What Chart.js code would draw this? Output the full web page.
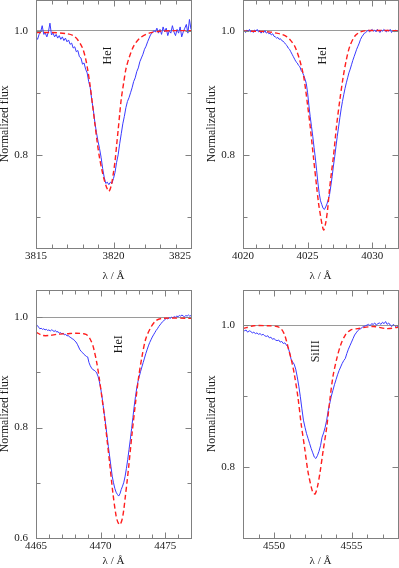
<!DOCTYPE html>
<html><head><meta charset="utf-8">
<script src="https://cdn.jsdelivr.net/npm/chart.js@4.4.1/dist/chart.umd.min.js"></script>
<style>
html,body{margin:0;padding:0;background:#fff;}
body{width:399px;height:568px;overflow:hidden;position:relative;}
canvas{position:absolute;}
</style></head><body>
<canvas id="c0"></canvas><canvas id="c1"></canvas><canvas id="c2"></canvas><canvas id="c3"></canvas>
<script>
// ---------- DATA ----------
const lineNames = ['HeI', 'HeI', 'HeI', 'SiIII'];
const lineLabelX = [3819.65, 4026.2, 4471.45, 4552.68];
const lineLabelY = [0.96, 0.96, 0.951, 0.963];

const xRanges = [[3815, 3825], [4020, 4032], [4465, 4477], [4548, 4558]];
const yRanges = [[0.65, 1.05], [0.65, 1.05], [0.6, 1.05], [0.7, 1.05]];
const xTickValues = [[3815, 3820, 3825], [4020, 4025, 4030], [4465, 4470, 4475], [4550, 4555]];
const yTickValues = [[0.8, 1.0], [0.8, 1.0], [0.6, 0.8, 1.0], [0.8, 1.0]];

// observed spectra: first wavelength, sampling step, normalized flux
const obsStart = [3815.0, 4020.0, 4465.0, 4548.0];
const obsStep = [0.1, 0.1, 0.1, 0.1];
const obs3819 = [
 0.990,0.986,0.994,0.998,1.008,0.994,0.996,0.990,0.998,1.012,
 0.993,0.996,0.990,0.994,0.988,0.992,0.986,0.990,0.984,0.988,
 0.982,0.985,0.978,0.980,0.972,0.974,0.966,0.968,0.958,0.956,
 0.946,0.948,0.938,0.932,0.918,0.908,0.888,0.872,0.852,0.836,
 0.822,0.810,0.796,0.778,0.764,0.754,0.756,0.752,0.756,0.754,
 0.762,0.772,0.788,0.800,0.818,0.834,0.850,0.862,0.876,0.886,
 0.892,0.900,0.908,0.918,0.924,0.934,0.940,0.950,0.956,0.962,
 0.970,0.975,0.982,0.988,0.994,0.996,1.000,0.998,1.004,0.996,
 1.002,0.994,1.006,0.998,1.004,0.992,1.000,0.996,1.008,0.998,
 0.992,1.002,0.996,1.006,0.990,0.998,1.004,1.010,0.996,1.018,
 1.002];
const obs4026 = [
 0.998,1.000,0.997,1.001,0.999,1.002,0.998,1.000,0.997,1.001,
 0.999,1.002,0.998,1.000,0.996,0.999,0.997,1.000,0.996,0.998,
 0.995,0.996,0.993,0.995,0.991,0.990,0.988,0.989,0.986,0.987,
 0.984,0.983,0.981,0.978,0.976,0.972,0.970,0.966,0.962,0.958,
 0.954,0.950,0.948,0.944,0.942,0.936,0.933,0.928,0.922,0.915,
 0.900,0.880,0.862,0.846,0.830,0.812,0.795,0.775,0.755,0.738,
 0.726,0.720,0.714,0.712,0.716,0.721,0.728,0.736,0.750,0.765,
 0.782,0.797,0.814,0.830,0.845,0.860,0.874,0.886,0.897,0.907,
 0.916,0.924,0.932,0.938,0.945,0.952,0.958,0.964,0.970,0.975,
 0.980,0.986,0.990,0.993,0.996,0.997,0.999,1.001,0.998,1.000,
 1.002,0.999,1.001,0.998,1.002,1.000,0.997,1.001,0.999,1.002,
 1.000,0.998,1.001,0.999,1.002,0.997,1.000,0.998,1.001,0.999,
 1.000];
const obs4471 = [
 0.988,0.985,0.982,0.979,0.980,0.978,0.979,0.977,0.978,0.976,
 0.977,0.975,0.977,0.976,0.974,0.976,0.973,0.974,0.971,0.972,
 0.970,0.971,0.968,0.969,0.966,0.967,0.964,0.963,0.961,0.960,
 0.957,0.955,0.951,0.946,0.941,0.938,0.936,0.933,0.931,0.929,
 0.928,0.918,0.912,0.908,0.905,0.904,0.902,0.899,0.893,0.884,
 0.872,0.858,0.840,0.822,0.804,0.785,0.766,0.748,0.730,0.712,
 0.700,0.690,0.683,0.679,0.676,0.680,0.688,0.694,0.701,0.712,
 0.726,0.742,0.760,0.778,0.798,0.818,0.838,0.856,0.872,0.884,
 0.893,0.902,0.910,0.918,0.926,0.934,0.941,0.948,0.954,0.959,
 0.964,0.968,0.972,0.976,0.979,0.983,0.986,0.989,0.992,0.994,
 0.996,0.998,0.997,0.999,0.998,1.000,0.999,1.001,1.000,1.002,
 1.001,1.003,1.002,1.004,1.002,1.001,1.003,1.002,1.004,1.002,
 1.003];
const obs4552 = [
 0.994,0.992,0.993,0.990,0.992,0.991,0.989,0.990,0.988,0.989,
 0.987,0.988,0.986,0.987,0.985,0.984,0.985,0.982,0.983,0.980,
 0.981,0.979,0.978,0.979,0.976,0.977,0.974,0.975,0.972,0.969,
 0.962,0.952,0.948,0.945,0.938,0.927,0.914,0.899,0.882,0.866,
 0.856,0.847,0.840,0.833,0.826,0.820,0.814,0.812,0.816,0.822,
 0.830,0.842,0.848,0.856,0.866,0.880,0.890,0.900,0.908,0.916,
 0.923,0.930,0.936,0.941,0.946,0.950,0.953,0.960,0.966,0.971,
 0.976,0.981,0.986,0.989,0.992,0.994,0.995,0.997,0.998,0.999,
 1.000,1.001,0.999,1.002,1.001,1.003,1.000,1.002,1.003,1.001,
 1.004,1.002,1.005,1.001,1.003,1.000,0.998,1.001,0.999,0.997,
 0.999];
const obsFlux = [obs3819, obs4026, obs4471, obs4552];

// model spectra: [wavelength, normalized flux]
const model3819 = [[3815,0.997],[3816,0.997],[3817,0.995],[3817.4,0.992],[3817.7,0.985],[3818.0,0.972],[3818.2,0.955],[3818.35,0.935],[3818.5,0.91],[3818.65,0.88],[3818.8,0.85],[3818.95,0.82],[3819.1,0.795],[3819.25,0.776],[3819.4,0.76],[3819.55,0.748],[3819.7,0.741],[3819.85,0.75],[3820.0,0.772],[3820.1,0.79],[3820.2,0.815],[3820.3,0.84],[3820.4,0.866],[3820.5,0.89],[3820.65,0.915],[3820.8,0.938],[3821.0,0.956],[3821.3,0.975],[3821.7,0.988],[3822.3,0.996],[3823,0.999],[3824,1.0],[3825,1.0]];
const model4026 = [[4020,0.999],[4021,0.999],[4022,0.998],[4022.6,0.996],[4023.0,0.994],[4023.4,0.99],[4023.7,0.984],[4024.0,0.975],[4024.2,0.965],[4024.4,0.952],[4024.55,0.94],[4024.7,0.926],[4024.85,0.905],[4025.0,0.88],[4025.2,0.846],[4025.45,0.797],[4025.7,0.749],[4025.85,0.722],[4026.0,0.702],[4026.12,0.688],[4026.25,0.679],[4026.4,0.69],[4026.55,0.712],[4026.7,0.745],[4026.85,0.772],[4027.0,0.797],[4027.24,0.846],[4027.5,0.889],[4027.76,0.926],[4028.0,0.953],[4028.27,0.975],[4028.65,0.991],[4029.0,0.997],[4029.5,1.0],[4032,1.0]];
const model4471 = [[4465,0.973],[4465.5,0.967],[4466.1,0.967],[4466.6,0.969],[4467.4,0.97],[4468.1,0.971],[4468.7,0.97],[4469.0,0.967],[4469.2,0.96],[4469.4,0.949],[4469.55,0.935],[4469.7,0.918],[4469.9,0.889],[4470.1,0.855],[4470.3,0.82],[4470.5,0.778],[4470.7,0.736],[4470.95,0.682],[4471.2,0.64],[4471.35,0.628],[4471.5,0.624],[4471.67,0.634],[4471.8,0.652],[4471.92,0.676],[4472.05,0.702],[4472.18,0.73],[4472.44,0.79],[4472.7,0.844],[4472.95,0.892],[4473.2,0.928],[4473.5,0.961],[4473.9,0.982],[4474.3,0.994],[4474.8,0.998],[4477,0.998]];
const model4552 = [[4548,0.995],[4548.7,0.999],[4549.6,0.999],[4550.2,0.998],[4550.45,0.995],[4550.65,0.988],[4550.8,0.978],[4550.95,0.965],[4551.1,0.953],[4551.3,0.932],[4551.54,0.899],[4551.75,0.861],[4551.97,0.828],[4552.18,0.795],[4552.4,0.772],[4552.52,0.764],[4552.65,0.762],[4552.8,0.772],[4552.96,0.791],[4553.17,0.823],[4553.4,0.856],[4553.6,0.894],[4553.8,0.927],[4554.03,0.951],[4554.3,0.972],[4554.6,0.986],[4554.94,0.993],[4555.4,0.995],[4556.4,0.998],[4557.3,0.995],[4558,0.997]];
const modelFlux = [model3819, model4026, model4471, model4552];

const xTitle = 'λ / Å';
const yTitle = 'Normalized flux';

// ---------- LAYOUT (page pixels of each plot frame) ----------
const geom = [
  {aL:36,  aR:191, aT:0,   aB:248, yW:40, yTitlePad:2, xTitlePad:7},
  {aL:243, aR:398, aT:0,   aB:248, yW:43, yTitlePad:5, xTitlePad:7},
  {aL:36,  aR:191, aT:290, aB:538, yW:40, yTitlePad:2, xTitlePad:12},
  {aL:243, aR:398, aT:290, aB:538, yW:43, yTitlePad:5, xTitlePad:12}
];
const X_AXIS_H = 42, PAD_R = 2;

const FRAME = '#808080';
const SERIF = "'Liberation Serif', 'Times New Roman', Times, serif";
Chart.defaults.font.family = SERIF;
Chart.defaults.font.size = 11;
Chart.defaults.color = '#1a1a1a';

const framePlugin = {
  id: 'frameTicks',
  afterDatasetsDraw(chart) {
    const i = chart.options.panelIndex;
    const {ctx, chartArea: a, scales: {x, y}} = chart;
    const L = Math.round(a.left) + 0.5, R = Math.round(a.right) + 0.5;
    const T = Math.round(a.top) + 0.5, B = Math.round(a.bottom) + 0.5;
    ctx.save();
    ctx.strokeStyle = FRAME;
    ctx.lineWidth = 1;
    ctx.beginPath();
    for (let v = Math.ceil(x.min); v <= Math.floor(x.max); v++) {
      const px = Math.round(x.getPixelForValue(v)) + 0.5;
      const len = xTickValues[i].includes(v) ? 6 : 4;
      ctx.moveTo(px, B); ctx.lineTo(px, B - len);
      ctx.moveTo(px, T); ctx.lineTo(px, T + len);
    }
    for (let k = Math.ceil(y.min * 10 - 1e-6); k <= Math.floor(y.max * 10 + 1e-6); k++) {
      const v = k / 10;
      const py = Math.round(y.getPixelForValue(v)) + 0.5;
      const major = yTickValues[i].some(t => Math.abs(t - v) < 1e-6);
      const len = major ? 6 : 4;
      ctx.moveTo(L, py); ctx.lineTo(L + len, py);
      ctx.moveTo(R, py); ctx.lineTo(R - len, py);
    }
    ctx.stroke();
    ctx.strokeRect(L, T, R - L, B - T);
    ctx.fillStyle = '#1a1a1a';
    ctx.font = '12px ' + SERIF;
    ctx.textAlign = 'center';
    ctx.textBaseline = 'middle';
    ctx.translate(x.getPixelForValue(lineLabelX[i]), y.getPixelForValue(lineLabelY[i]));
    ctx.rotate(-Math.PI / 2);
    ctx.fillText(lineNames[i], 0, 0);
    ctx.restore();
  }
};

function buildChart(i, cv, cl, ct, cw, ch) {
  const g = geom[i];
  cv.width = cw; cv.height = ch;
  cv.style.left = cl + 'px'; cv.style.top = ct + 'px';
  cv.style.width = cw + 'px'; cv.style.height = ch + 'px';
  const obsData = obsFlux[i].map((f, k) => ({x: obsStart[i] + k * obsStep[i], y: f}));
  const modelData = modelFlux[i].map(p => ({x: p[0], y: p[1]}));
  const useInner = i === 0;
  const xt = useInner ? [xTickValues[i][0]].concat(xTickValues[i]) : xTickValues[i];
  return new Chart(cv, {
    type: 'line',
    data: {
      datasets: [
        {label: 'model', data: modelData, borderColor: '#ff1e1e', borderWidth: 1.4,
         borderDash: [5, 3], pointRadius: 0, tension: 0.3, fill: false, order: 0},
        {label: 'observed', data: obsData, borderColor: '#3a3aff', borderWidth: 1,
         pointRadius: 0, tension: 0, fill: false, order: 1}
      ]
    },
    options: {
      panelIndex: i,
      responsive: false,
      animation: false,
      devicePixelRatio: 1,
      layout: {padding: {left: 0, right: PAD_R, top: 0, bottom: 0}},
      plugins: {legend: {display: false}, tooltip: {enabled: false}},
      scales: {
        x: {
          type: 'linear', min: xRanges[i][0], max: xRanges[i][1],
          afterBuildTicks: s => { s.ticks = xt.map(v => ({value: v})); },
          afterFit: s => { s.height = X_AXIS_H; },
          ticks: {autoSkip: false, maxRotation: 0, padding: 2, align: useInner ? 'inner' : 'center',
                  callback: (v, idx) => (useInner && idx === 0) ? '' : String(v)},
          grid: {display: false, drawTicks: false},
          border: {display: false},
          title: {display: true, text: xTitle, padding: {top: 0, bottom: g.xTitlePad}}
        },
        y: {
          type: 'linear', min: yRanges[i][0], max: yRanges[i][1],
          afterBuildTicks: s => { s.ticks = yTickValues[i].map(v => ({value: v})); },
          afterFit: s => { s.width = g.yW; },
          ticks: {padding: 8, callback: v => Number(v).toFixed(1)},
          grid: {drawTicks: false, drawOnChartArea: true, lineWidth: 1,
                 color: c => (c.tick && Math.abs(c.tick.value - 1) < 1e-6) ? '#9a9a9a' : 'rgba(0,0,0,0)'},
          border: {display: false},
          title: {display: true, text: yTitle, font: {size: 11.7}, padding: {top: g.yTitlePad, bottom: 0}}
        }
      }
    },
    plugins: [framePlugin]
  });
}

for (let i = 0; i < 4; i++) {
  const g = geom[i];
  const cv = document.getElementById('c' + i);
  // first pass: measure where Chart.js puts the plot area inside the canvas
  let cl = g.aL - g.yW, ct = g.aT;
  let cw = g.aR + PAD_R - cl, ch = g.aB + X_AXIS_H - ct;
  let chart = buildChart(i, cv, cl, ct, cw, ch);
  const a = chart.chartArea;
  chart.destroy();
  // second pass: shift/resize the canvas so the plot frame lands where wanted
  cl = g.aL - a.left; ct = g.aT - a.top;
  cw = g.aR + (cw - a.right) - cl;
  ch = g.aB + (ch - a.bottom) - ct;
  buildChart(i, cv, Math.round(cl), Math.round(ct), Math.round(cw), Math.round(ch));
}
</script>
</body></html>
